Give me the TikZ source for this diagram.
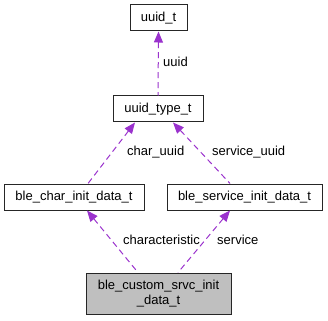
\documentclass[tikz,border=0pt]{standalone}
\usepackage{fontspec}
\setmainfont{Liberation Sans}
\usetikzlibrary{arrows.meta}
\definecolor{edgepurple}{RGB}{154,50,205}
\definecolor{focusgray}{RGB}{191,191,191}
\tikzset{
  cls/.style={draw=black!85, line width=1pt, fill=white, inner sep=0pt,
              minimum height=26pt, align=center, font=\fontsize{13}{15}\selectfont},
  focus/.style={cls, fill=focusgray, minimum height=41pt},
  uses/.style={{Triangle[length=11pt,width=9pt]}-, edgepurple, line width=1pt,
               dash pattern=on 6pt off 4pt},
  elabel/.style={anchor=west, inner sep=0pt, font=\fontsize{13}{15}\selectfont},
}
\begin{document}
\begin{tikzpicture}[x=1pt, y=-1pt]
\useasboundingbox (0,0) rectangle (328,320);

% --- classes ---
\node[cls, minimum width=57pt]  (uuid)     at (158.5,18)  {uuid\_t};
\node[cls, minimum width=90pt]  (uuidtype) at (158,109)   {uuid\_type\_t};
\node[cls, minimum width=140pt] (charinit) at (74,197)    {ble\_char\_init\_data\_t};
\node[cls, minimum width=155pt] (srvcinit) at (244.5,197) {ble\_service\_init\_data\_t};
\node[focus, minimum width=145pt] (custom) at (158.5,293.5)
    {ble\_custom\_srvc\_init\\\_data\_t};

% --- member links ---
\draw[uses] (uuid.south) -- (uuidtype.north);
\draw[uses] ([xshift=-23pt]uuidtype.south) -- ([xshift=14pt]charinit.north);
\draw[uses] ([xshift=15pt]uuidtype.south) -- ([xshift=-14.5pt]srvcinit.north);
\draw[uses] ([xshift=13pt]charinit.south) -- ([xshift=-20.5pt]custom.north);
\draw[uses] ([xshift=-14.5pt]srvcinit.south) -- ([xshift=19.5pt]custom.north);

% --- member names ---
\node[elabel] (lbluuid) at (163,62)  {uuid};
\node[elabel] (lblchar) at (127,152) {char\_uuid};
\node[elabel] (lblsrvc) at (212,152) {service\_uuid};
\node[elabel] (lblcharacteristic) at (123,240) {characteristic};
\node[elabel] (lblservice) at (217,240) {service};

\end{tikzpicture}
\end{document}
